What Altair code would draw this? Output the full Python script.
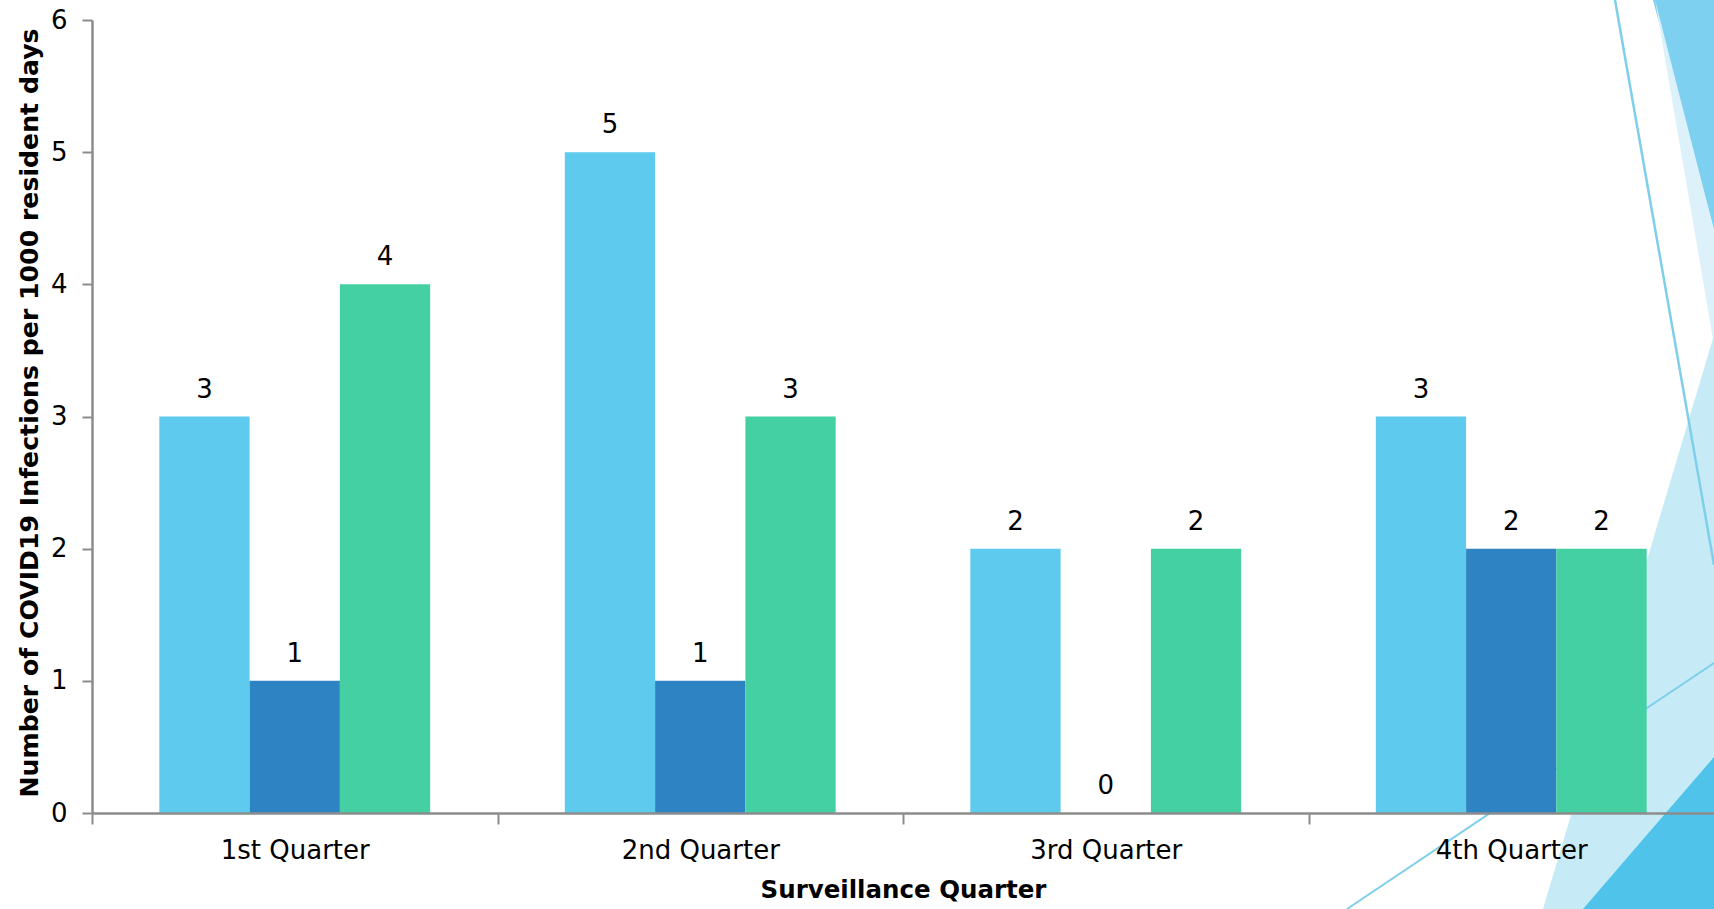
import altair as alt
import pandas as pd

# ---- chart data -------------------------------------------------------------
quarters = ["1st Quarter", "2nd Quarter", "3rd Quarter", "4th Quarter"]
series_names = ["Series 1", "Series 2", "Series 3"]
series_1 = [3, 5, 2, 3]
series_2 = [1, 1, 0, 2]
series_3 = [4, 3, 2, 2]

# ---- styling ----------------------------------------------------------------
series_colors = ["#5ECAEE", "#2E83C2", "#44D0A2"]
FONT = "DejaVu Sans"
AXIS_GRAY = "#8C8C8C"
LABEL_SIZE = 26
X_TITLE_SIZE = 24.5
Y_TITLE_SIZE = 25.2
PAGE_W, PAGE_H = 1714, 909
LEFT, TOP, BOTTOM = 92, 20, 96
W, H = PAGE_W - LEFT, PAGE_H - TOP - BOTTOM
STEP = W / len(quarters)

rows = []
for name, vals in zip(series_names, [series_1, series_2, series_3]):
    for q, v in zip(quarters, vals):
        rows.append({"Quarter": q, "Series": name, "Rate": v})
df = pd.DataFrame(rows)

x_enc = alt.X(
    "Quarter:N",
    sort=quarters,
    scale=alt.Scale(paddingInner=0.332, paddingOuter=0.166),
    axis=alt.Axis(
        orient="bottom",
        title="Surveillance Quarter",
        labelAngle=0,
        # ticks sit on the boundaries between quarters, labels stay centred
        tickOffset=-STEP / 2,
        labelOffset=STEP / 2,
        domainColor=AXIS_GRAY,
        domainWidth=2.5,
        tickColor=AXIS_GRAY,
        tickWidth=2,
        tickSize=11,
        labelFont=FONT,
        labelFontSize=LABEL_SIZE,
        labelColor="black",
        labelPadding=13,
        titleFont=FONT,
        titleFontSize=X_TITLE_SIZE,
        titleFontWeight="bold",
        titleColor="black",
        titleY=77,
        titleBaseline="middle",
        zindex=1,
    ),
)
xoff_enc = alt.XOffset(
    "Series:N", sort=series_names, scale=alt.Scale(paddingInner=0, paddingOuter=0)
)
y_enc = alt.Y(
    "Rate:Q",
    scale=alt.Scale(domain=[0, 6], nice=False),
    axis=alt.Axis(
        orient="left",
        title="Number of COVID19 Infections per 1000 resident days",
        values=[0, 1, 2, 3, 4, 5, 6],
        format="d",
        grid=False,
        domainColor=AXIS_GRAY,
        domainWidth=2.5,
        tickColor=AXIS_GRAY,
        tickWidth=2,
        tickSize=10,
        labelFont=FONT,
        labelFontSize=LABEL_SIZE,
        labelColor="black",
        labelPadding=15,
        titleFont=FONT,
        titleFontSize=Y_TITLE_SIZE,
        titleFontWeight="bold",
        titleColor="black",
        titleX=-63,
        titleY=H / 2 - 4,
        titleAngle=-90,
        titleAlign="center",
        titleBaseline="middle",
        zindex=1,
    ),
)

bars = alt.Chart(df).mark_bar().encode(
    x=x_enc,
    xOffset=xoff_enc,
    y=y_enc,
    color=alt.Color(
        "Series:N",
        scale=alt.Scale(domain=series_names, range=series_colors),
        legend=None,
    ),
)

value_labels = alt.Chart(df).mark_text(
    baseline="alphabetic", dy=-19, fontSize=LABEL_SIZE, font=FONT, color="black"
).encode(
    x=alt.X("Quarter:N", sort=quarters),
    xOffset=alt.XOffset("Series:N", sort=series_names),
    y=alt.Y("Rate:Q"),
    text=alt.Text("Rate:Q"),
)

main = alt.layer(bars, value_labels)

# ---- slide-theme facets in the right margin (page pixel coordinates) --------
page_x = alt.Scale(domain=[LEFT, PAGE_W], range=[0, W], nice=False, zero=False)
page_y = alt.Scale(domain=[TOP, TOP + H], range=[0, H], nice=False, zero=False)

facet_colors = ["#7ED0F0", "#DCF1FA", "#C6EBF7", "#50C3EA"]
facet_x = [[1653, 1714], [1655, 1714], [1543, 1714], [1583, 1714]]
facet_top = [[0, 0], [0, 230], [909, 335], [909, 757]]
facet_bottom = [[0, 230], [0, 345], [909, 909], [909, 909]]

line_x = [[1615, 1714], [1347, 1714]]
line_y = [[0, 565], [909, 663]]
line_widths = [2.5, 2]
LINE_COLOR = "#7FCFEB"

deco_layers = []
for color, xs, tops, bottoms in zip(facet_colors, facet_x, facet_top, facet_bottom):
    shape = pd.DataFrame({"px": xs, "top": tops, "bottom": bottoms})
    deco_layers.append(
        alt.Chart(shape).mark_area(color=color, opacity=1).encode(
            x=alt.X("px:Q", scale=page_x, axis=None),
            y=alt.Y("top:Q", scale=page_y, axis=None),
            y2="bottom:Q",
        )
    )
for xs, ys, lw in zip(line_x, line_y, line_widths):
    seg = pd.DataFrame({"px": xs, "py": ys})
    deco_layers.append(
        alt.Chart(seg).mark_line(color=LINE_COLOR, strokeWidth=lw).encode(
            x=alt.X("px:Q", scale=page_x, axis=None),
            y=alt.Y("py:Q", scale=page_y, axis=None),
        )
    )
deco = alt.layer(*deco_layers)

chart = (
    alt.layer(deco, main)
    .resolve_scale(x="independent", y="independent")
    .properties(
        width=W,
        height=H,
        autosize=alt.AutoSizeParams(type="none"),
        padding={"left": LEFT, "top": TOP, "right": 0, "bottom": BOTTOM},
        background="white",
    )
    .configure_view(stroke=None)
)

chart.save("out.html", embed_options={"renderer": "svg", "actions": False})
